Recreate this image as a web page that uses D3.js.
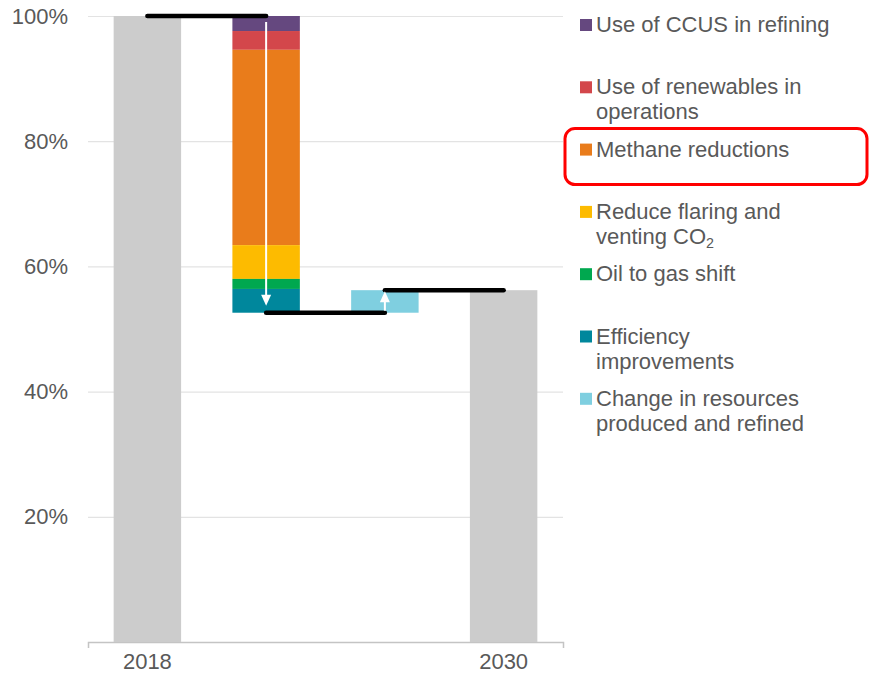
<!DOCTYPE html>
<html lang='en'>
<head>
	<meta charset='UTF-8'>
	<title>Emissions intensity waterfall</title>
	<style>
		body { margin: 0; background: #fff; }
		svg { display: block; font-family: 'Liberation Sans', Arial, sans-serif; }
	</style>
</head>
<body>

<svg></svg>

<script src='https://d3js.org/d3.v7.min.js'></script>
<script>
// categories on the x axis (the two middle ones carry no label)
const categories = ['2018', 'drivers', 'resources', '2030']
const tickLabels = ['2018', '', '', '2030']
const yTicks = [20, 40, 60, 80, 100]

// waterfall values, % of 2018
const startValue = 100
const driverNames = ['Use of CCUS in refining', 'Use of renewables in operations', 'Methane reductions',
	'Reduce flaring and venting CO2', 'Oil to gas shift', 'Efficiency improvements']
const driverValues = [2.4, 3.0, 31.2, 5.4, 1.6, 3.8]
const resourceName = 'Change in resources produced and refined'
const resourceValue = 3.6
const endValue = 56.2

// legend text, split in lines
const legendLines = [
	['Use of CCUS in refining'],
	['Use of renewables in', 'operations'],
	['Methane reductions'],
	['Reduce flaring and', 'venting CO|2'],
	['Oil to gas shift'],
	['Efficiency', 'improvements'],
	['Change in resources', 'produced and refined']
]
const colors = ['#65487f', '#d3474b', '#e97c1b', '#fdbb00', '#00a84f', '#00879c', '#7fcfe0']
const highlighted = 'Methane reductions'

const width = 871
const height = 678
const plotLeft = 88, plotRight = 563, plotTop = 16, plotBottom = 642
const textColor = '#595959'
const fontSize = 22

const svg = d3.select('svg')
	.attr('width', width)
	.attr('height', height)

const x = d3.scaleBand()
	.domain(categories)
	.range([plotLeft, plotRight])
	.paddingInner(0.432)
	.paddingOuter(0.216)

const y = d3.scaleLinear()
	.domain([0, 100])
	.range([plotBottom, plotTop])

// gridlines + y labels
const yAxis = svg.append('g')
	.attr('transform', `translate(${plotLeft},0)`)
	.call(d3.axisLeft(y).tickValues(yTicks).tickSize(-(plotRight - plotLeft)).tickPadding(20).tickFormat(d => d + '%'))
yAxis.select('.domain').remove()
yAxis.selectAll('line').attr('stroke', '#e3e3e3').attr('stroke-width', 1.2)
yAxis.selectAll('text').attr('fill', textColor).attr('font-size', fontSize).attr('font-family', 'Liberation Sans, Arial, sans-serif')

// x axis
const xAxis = svg.append('g')
	.attr('transform', `translate(0,${plotBottom})`)
	.call(d3.axisBottom(x).tickSizeInner(0).tickSizeOuter(6).tickPadding(11).tickFormat((d, i) => tickLabels[i]))
xAxis.select('.domain').attr('stroke', '#c4c4c4').attr('stroke-width', 1.5)
xAxis.selectAll('text').attr('fill', textColor).attr('font-size', fontSize).attr('font-family', 'Liberation Sans, Arial, sans-serif')

// stacked drivers, first one on top
let run = startValue
const driverData = driverValues.map((v, i) => {
	const d = { name: driverNames[i], hi: run, lo: run - v, color: colors[i] }
	run -= v
	return d
})
const driverBottom = run

const totals = [
	{ cat: '2018', value: startValue },
	{ cat: '2030', value: endValue }
]

const bars = svg.append('g')
bars.selectAll('rect.total')
	.data(totals)
	.join('rect')
	.attr('class', 'total')
	.attr('x', d => x(d.cat))
	.attr('width', x.bandwidth())
	.attr('y', d => y(d.value))
	.attr('height', d => y(0) - y(d.value))
	.attr('fill', '#cccccc')

bars.selectAll('rect.driver')
	.data(driverData)
	.join('rect')
	.attr('class', 'driver')
	.attr('x', x('drivers'))
	.attr('width', x.bandwidth())
	.attr('y', d => y(d.hi))
	.attr('height', d => y(d.lo) - y(d.hi))
	.attr('fill', d => d.color)

bars.append('rect')
	.attr('x', x('resources'))
	.attr('width', x.bandwidth())
	.attr('y', y(driverBottom + resourceValue))
	.attr('height', y(driverBottom) - y(driverBottom + resourceValue))
	.attr('fill', colors[6])

// connectors
const cx = c => x(c) + x.bandwidth() / 2
const connectors = [
	{ from: '2018', to: 'drivers', value: startValue },
	{ from: 'drivers', to: 'resources', value: driverBottom },
	{ from: 'resources', to: '2030', value: driverBottom + resourceValue }
]
svg.append('g').selectAll('line')
	.data(connectors)
	.join('line')
	.attr('x1', d => cx(d.from))
	.attr('x2', d => cx(d.to))
	.attr('y1', d => y(d.value))
	.attr('y2', d => y(d.value))
	.attr('stroke', '#000')
	.attr('stroke-width', 4.5)
	.attr('stroke-linecap', 'round')

// white arrows
function arrow(xc, y0, y1) {
	const dir = y1 > y0 ? 1 : -1
	const g = svg.append('g')
	g.append('line')
		.attr('x1', xc).attr('x2', xc)
		.attr('y1', y0).attr('y2', y1 - dir * 8)
		.attr('stroke', '#fff').attr('stroke-width', 2)
	g.append('path')
		.attr('d', `M${xc - 5},${y1 - dir * 11}L${xc + 5},${y1 - dir * 11}L${xc},${y1}Z`)
		.attr('fill', '#fff')
}
arrow(cx('drivers'), y(startValue) + 6, y(driverBottom) - 7)
arrow(cx('resources'), y(driverBottom) - 2, y(driverBottom + resourceValue) + 1)

// legend
const legend = svg.append('g')
	.attr('font-size', fontSize)
	.attr('fill', textColor)
const item = legend.selectAll('g')
	.data(legendLines)
	.join('g')
	.attr('transform', (d, i) => `translate(580,${32 + i * 62.3})`)
item.append('rect')
	.attr('y', -13)
	.attr('width', 12)
	.attr('height', 12)
	.attr('fill', (d, i) => colors[i])
item.each(function (lines) {
	const t = d3.select(this).append('text').attr('x', 16)
	lines.forEach((line, j) => {
		const parts = line.split('|')
		t.append('tspan').attr('x', 16).attr('y', j * 25).text(parts[0])
		if (parts[1]) {
			t.append('tspan').attr('font-size', fontSize * 0.65).attr('dy', 4).text(parts[1])
		}
	})
})

// red highlight box
const hi = legendLines.findIndex(l => l.join(' ') === highlighted)
svg.append('rect')
	.attr('x', 565)
	.attr('y', 32 + hi * 62.3 - 28)
	.attr('width', 302)
	.attr('height', 56)
	.attr('rx', 10)
	.attr('fill', 'none')
	.attr('stroke', '#ff0000')
	.attr('stroke-width', 3)

</script>
</body>
</html>
